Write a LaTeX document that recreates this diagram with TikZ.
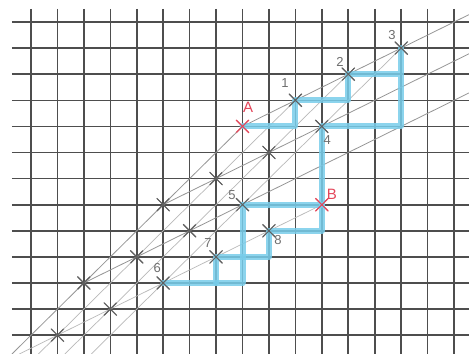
\documentclass[tikz,border=0pt]{standalone}
\usepackage{fontspec}
\setsansfont{Liberation Sans}
\usetikzlibrary{shapes.misc}
\definecolor{gridc}{RGB}{78,78,78}
\definecolor{consc}{RGB}{150,150,150}
\definecolor{lightc}{RGB}{185,185,185}
\definecolor{bluec}{RGB}{120,205,235}
\definecolor{redc}{RGB}{228,70,90}
\definecolor{labc}{RGB}{110,110,110}
\begin{document}
\begin{tikzpicture}[x=26.44pt,y=-26.1pt,
  gridline/.style={draw=gridc,line width=1.6pt},
  consline/.style={draw=consc,line width=0.8pt},
  lightline/.style={draw=lightc,line width=0.7pt},
  bluepath/.style={draw=bluec,line width=6pt,line join=round,line cap=round,opacity=0.85},
  xmark/.style={cross out,draw=gridc!90,line width=1pt,minimum size=12pt,inner sep=0pt},
  redmark/.style={xmark,draw=redc},
  numlabel/.style={text=labc,font=\sffamily\fontsize{13}{13}\selectfont,inner sep=0pt},
  redlabel/.style={text=redc,font=\sffamily\fontsize{15}{15}\selectfont,inner sep=0pt}]
\useasboundingbox[fill=white] (-1.1725,-0.8429) rectangle (16.566,12.720);
% grid
\foreach \i in {0,...,16} \draw[gridline] (\i,-0.5) -- (\i,12.72);
\foreach \j in {0,...,12} \draw[gridline] (-0.72,\j) -- (16.566,\j);
% lattice points
\node[redmark] (A) at (8,4) {};
\node[xmark] (p1) at (10,3) {};
\node[xmark] (p2) at (12,2) {};
\node[xmark] (p3) at (14,1) {};
\node[xmark] (q57) at (5,7) {};
\node[xmark] (q76) at (7,6) {};
\node[xmark] (q95) at (9,5) {};
\node[xmark] (p4) at (11,4) {};
\node[xmark] (q210) at (2,10) {};
\node[xmark] (q49) at (4,9) {};
\node[xmark] (q68) at (6,8) {};
\node[xmark] (p5) at (8,7) {};
\node[xmark] (q112) at (1,12) {};
\node[xmark] (q311) at (3,11) {};
\node[xmark] (p6) at (5,10) {};
\node[xmark] (p7) at (7,9) {};
\node[xmark] (p8) at (9,8) {};
\node[redmark] (B) at (11,7) {};
% free ends on picture border
\coordinate (e1) at (-0.72,12.72);
\coordinate (e2) at (0.28,12.72);
\coordinate (e3) at (1.28,12.72);
\coordinate (e4) at (2.28,12.72);
\coordinate (e5) at (-0.44,12.72);
\coordinate (fa) at (16.566,-0.283);
\coordinate (fb) at (16.566,1.217);
\coordinate (fc) at (16.566,2.717);
% construction lines (45 degrees)
\draw[consline] (e1) -- (q210.center) -- (q57.center) -- (A.center);
\draw[lightline] (e2) -- (q112.center) -- (q49.center) -- (q76.center) -- (p1.center);
\draw[lightline] (e3) -- (q311.center) -- (q68.center) -- (q95.center) -- (p2.center);
\draw[lightline] (e4) -- (p6.center) -- (p5.center) -- (p4.center) -- (p3.center);
% construction lines (slope 1/2)
\draw[consline] (A.center) -- (p1.center) -- (p2.center) -- (p3.center) -- (fa);
\draw[consline] (q57.center) -- (q76.center) -- (q95.center) -- (p4.center) -- (fb);
\draw[consline] (q210.center) -- (q49.center) -- (q68.center) -- (p5.center) -- (fc);
\draw[lightline] (e5) -- (q112.center) -- (q311.center) -- (p6.center) -- (p7.center) -- (p8.center) -- (B.center);
% blue staircases
\coordinate (c1) at (10,4);
\coordinate (c2) at (12,3);
\coordinate (c3) at (14,2);
\coordinate (c4) at (14,4);
\coordinate (c5) at (7,10);
\coordinate (c6) at (9,9);
\coordinate (c7) at (11,8);
\coordinate (c8) at (8,10);
\draw[bluepath] (A.center) -- (c1) -- (p1.center) -- (c2) -- (p2.center) -- (c3) -- (p3.center) -- (c4) -- (p4.center) -- (B.center);
\draw[bluepath] (p5.center) -- (B.center);
\draw[bluepath] (p6.center) -- (c5) -- (p7.center) -- (c6) -- (p8.center) -- (c7) -- (B.center);
\draw[bluepath] (p5.center) -- (c8) -- (c5);
% redraw marks on top
\foreach \n in {p1,p2,p3,p4,p5,p6,p7,p8,q57,q76,q95,q210,q49,q68,q112,q311}
  \draw[gridc!90,line width=1pt] ([shift={(-6pt,-6pt)}]\n.center) -- ([shift={(6pt,6pt)}]\n.center)
    ([shift={(-6pt,6pt)}]\n.center) -- ([shift={(6pt,-6pt)}]\n.center);
\foreach \n in {A,B}
  \draw[redc,line width=1.1pt] ([shift={(-6pt,-6pt)}]\n.center) -- ([shift={(6pt,6pt)}]\n.center)
    ([shift={(-6pt,6pt)}]\n.center) -- ([shift={(6pt,-6pt)}]\n.center);
% labels
\node[redlabel] (lA) at (8.21,3.26) {A};
\node[numlabel] (l1) at (9.61,2.34) {1};
\node[numlabel] (l2) at (11.69,1.53) {2};
\node[numlabel] (l3) at (13.65,0.50) {3};
\node[numlabel] (l4) at (11.2,4.52) {4};
\node[numlabel] (l5) at (7.6,6.63) {5};
\node[redlabel] (lB) at (11.38,6.59) {B};
\node[numlabel] (l8) at (9.34,8.35) {8};
\node[numlabel] (l7) at (6.69,8.47) {7};
\node[numlabel] (l6) at (4.77,9.43) {6};
\end{tikzpicture}
\end{document}
